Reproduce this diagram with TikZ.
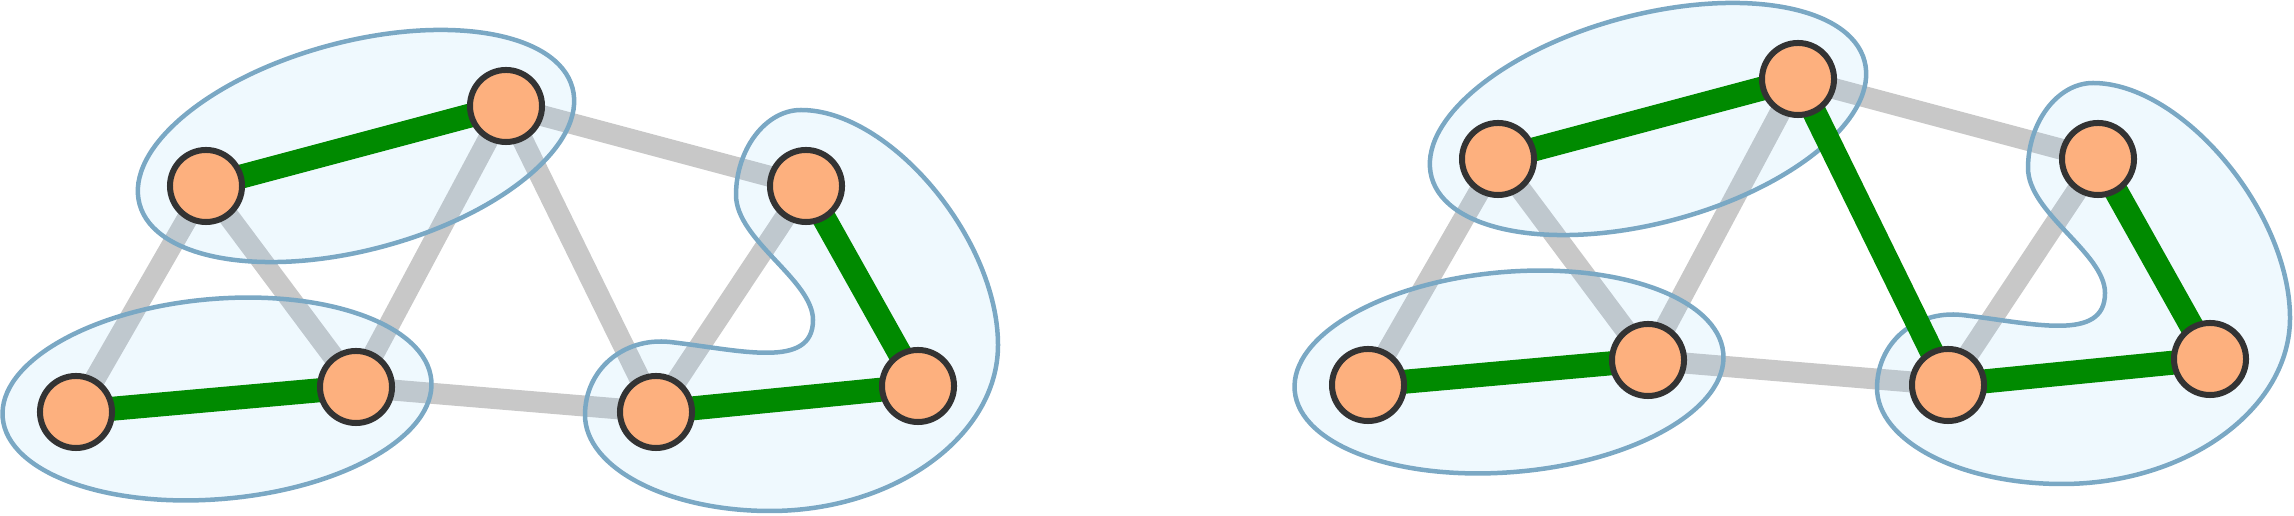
\documentclass[tikz,border=0pt]{standalone}
\usepackage{tikz}
\usepackage{xcolor}
\definecolor{Peach}{HTML}{FDB07E}
\definecolor{Leaf}{HTML}{008A00}
\definecolor{Ash}{HTML}{C8C8C8}
\definecolor{Steel}{HTML}{7AA8C4}
\definecolor{Sky}{HTML}{87CEFA}
\definecolor{Ink}{HTML}{333333}
\pgfdeclarelayer{plainlayer}
\pgfdeclarelayer{hulllayer}
\pgfdeclarelayer{matchlayer}
\pgfsetlayers{plainlayer,hulllayer,matchlayer,main}
\tikzset{
  vertex/.style={circle, draw=Ink, line width=0.06cm, fill=Peach,
    minimum size=0.72cm, inner sep=0pt},
  plainedge/.style={draw=Ash, line width=0.21cm},
  matchedge/.style={draw=Leaf, line width=0.24cm},
  hull/.style={draw=Steel, line width=0.045cm, fill=Sky, fill opacity=0.13},
}

\begin{document}
\begin{tikzpicture}[x=0.01cm, y=-0.01cm]
  \useasboundingbox (0,0) rectangle (2294,516);

  % left graph
  \node[vertex] (la) at (76,412)  {};
  \node[vertex] (lb) at (206,186) {};
  \node[vertex] (lc) at (506,106) {};
  \node[vertex] (ld) at (356,387) {};
  \node[vertex] (le) at (656,412) {};
  \node[vertex] (lf) at (806,186) {};
  \node[vertex] (lg) at (918,386) {};

  \begin{pgfonlayer}{plainlayer}
    \draw[plainedge] (la.center) -- (lb.center);
    \draw[plainedge] (lb.center) -- (ld.center);
    \draw[plainedge] (lc.center) -- (ld.center);
    \draw[plainedge] (lc.center) -- (le.center);
    \draw[plainedge] (lc.center) -- (lf.center);
    \draw[plainedge] (ld.center) -- (le.center);
    \draw[plainedge] (lf.center) -- (le.center);
  \end{pgfonlayer}

  \begin{pgfonlayer}{hulllayer}
    \draw[hull, rotate around={15:(356,146)}] (356,146)
      ellipse [x radius=2.24cm, y radius=1.04cm];
    \draw[hull, rotate around={5:(217,399)}] (217,399)
      ellipse [x radius=2.15cm, y radius=1cm];
    \draw[hull] (801,110) .. controls (890,110) and (998,239) .. (998,345)
      .. controls (998,436) and (895,511) .. (770,511)
      .. controls (668,511) and (585,468) .. (585,415)
      .. controls (585,370) and (623,337) .. (670,342)
      .. controls (740,350) and (813,370) .. (813,320)
      .. controls (813,280) and (736,240) .. (736,195)
      .. controls (736,150) and (765,110) .. (801,110) -- cycle;
  \end{pgfonlayer}

  \begin{pgfonlayer}{matchlayer}
    \draw[matchedge] (la.center) -- (ld.center);
    \draw[matchedge] (lb.center) -- (lc.center);
    \draw[matchedge] (le.center) -- (lg.center);
    \draw[matchedge] (lf.center) -- (lg.center);
  \end{pgfonlayer}

  % right graph
  \begin{scope}[shift={(1292,-27)}]
    \node[vertex] (ra) at (76,412)  {};
    \node[vertex] (rb) at (206,186) {};
    \node[vertex] (rc) at (506,106) {};
    \node[vertex] (rd) at (356,387) {};
    \node[vertex] (re) at (656,412) {};
    \node[vertex] (rf) at (806,186) {};
    \node[vertex] (rg) at (918,386) {};

    \begin{pgfonlayer}{plainlayer}
      \draw[plainedge] (ra.center) -- (rb.center);
      \draw[plainedge] (rb.center) -- (rd.center);
      \draw[plainedge] (rc.center) -- (rd.center);
      \draw[plainedge] (rc.center) -- (rf.center);
      \draw[plainedge] (rd.center) -- (re.center);
      \draw[plainedge] (rf.center) -- (re.center);
    \end{pgfonlayer}

    \begin{pgfonlayer}{hulllayer}
      \draw[hull, rotate around={15:(356,146)}] (356,146)
        ellipse [x radius=2.24cm, y radius=1.04cm];
      \draw[hull, rotate around={5:(217,399)}] (217,399)
        ellipse [x radius=2.15cm, y radius=1cm];
      \draw[hull] (801,110) .. controls (890,110) and (998,239) .. (998,345)
        .. controls (998,436) and (895,511) .. (770,511)
        .. controls (668,511) and (585,468) .. (585,415)
        .. controls (585,370) and (623,337) .. (670,342)
        .. controls (740,350) and (813,370) .. (813,320)
        .. controls (813,280) and (736,240) .. (736,195)
        .. controls (736,150) and (765,110) .. (801,110) -- cycle;
    \end{pgfonlayer}

    \begin{pgfonlayer}{matchlayer}
      \draw[matchedge] (ra.center) -- (rd.center);
      \draw[matchedge] (rb.center) -- (rc.center);
      \draw[matchedge] (rc.center) -- (re.center);
      \draw[matchedge] (re.center) -- (rg.center);
      \draw[matchedge] (rf.center) -- (rg.center);
    \end{pgfonlayer}
  \end{scope}
\end{tikzpicture}
\end{document}
